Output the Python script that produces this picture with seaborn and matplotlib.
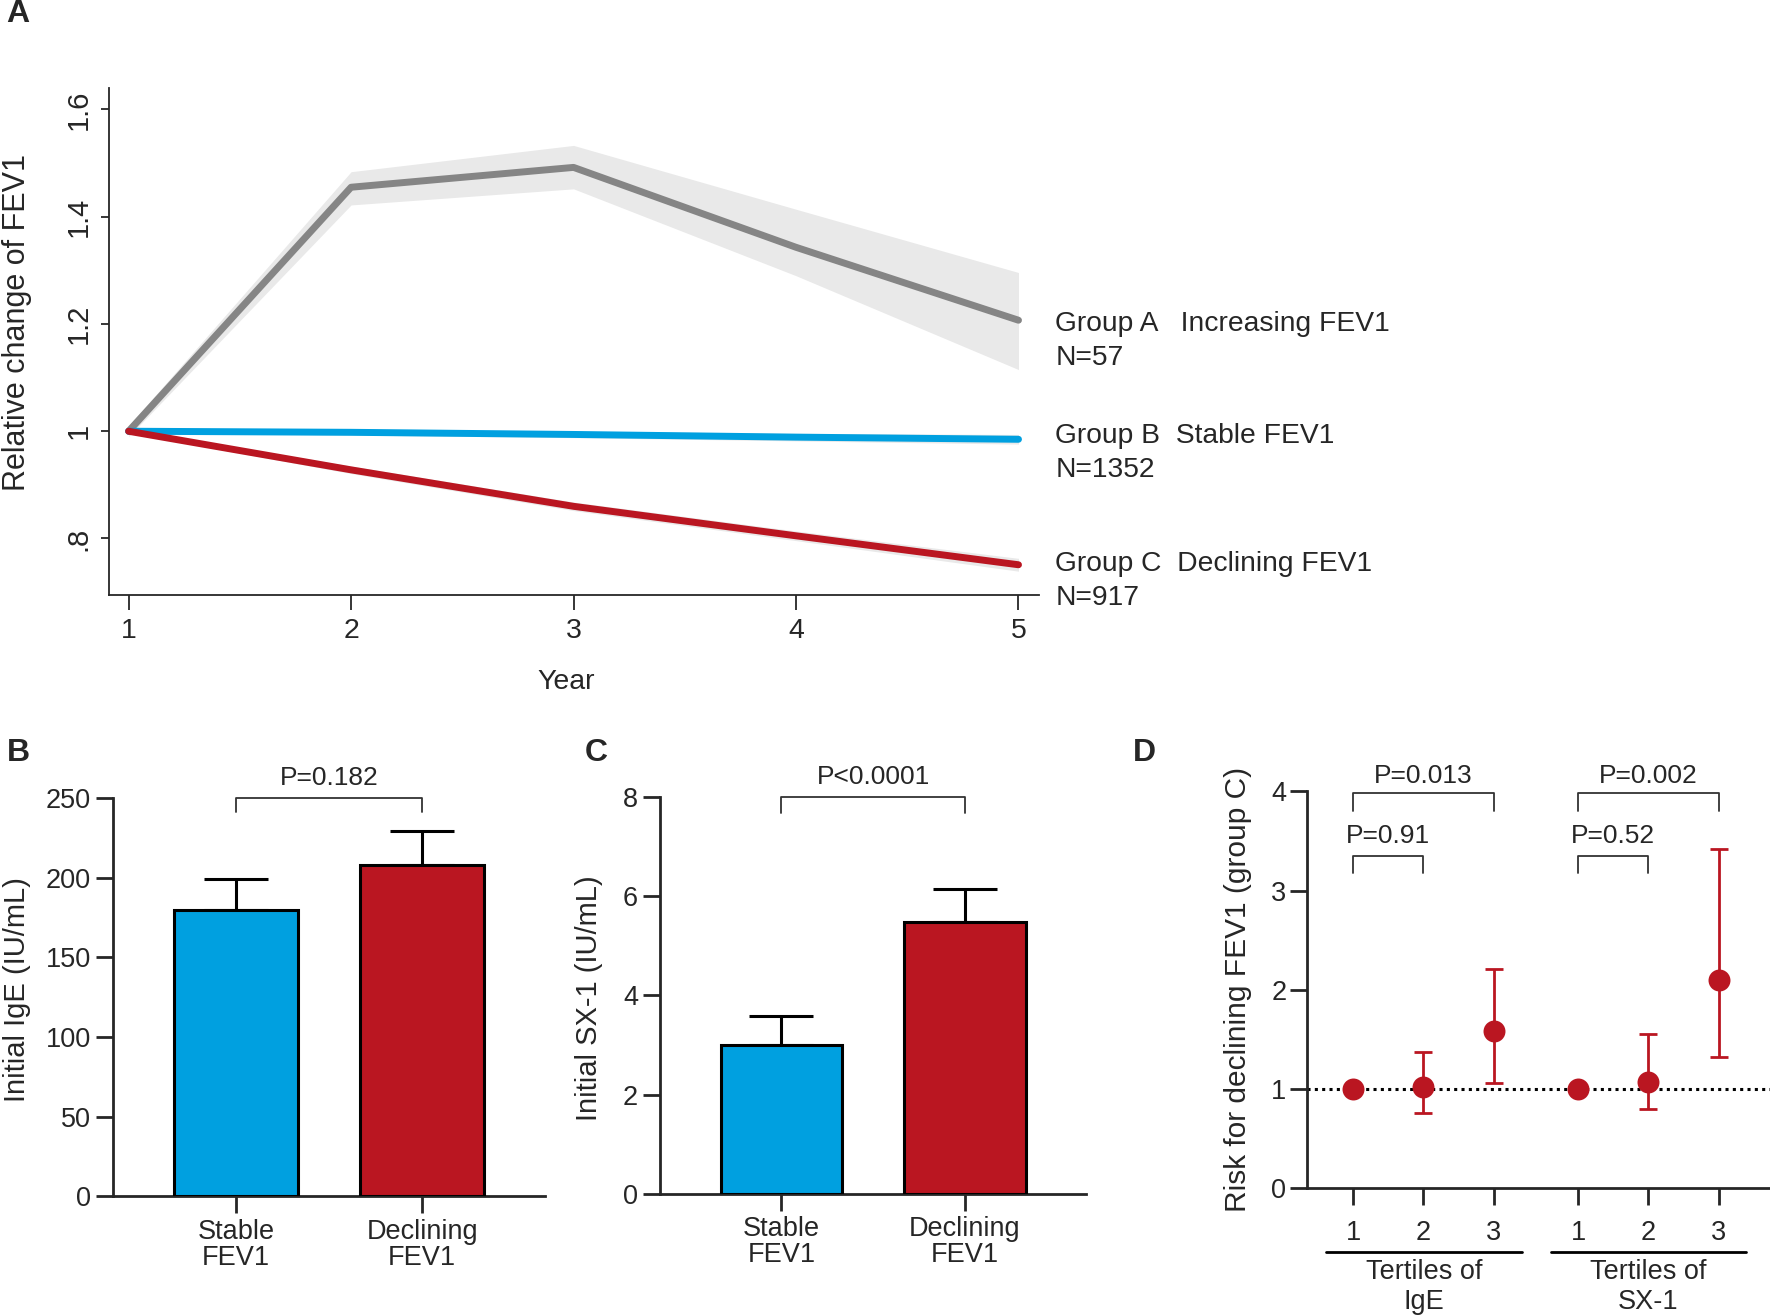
import matplotlib
matplotlib.use('Agg')
import matplotlib.pyplot as plt
import matplotlib.transforms as mtransforms
from matplotlib import font_manager
import seaborn as sns
import numpy as np

sns.set_style('ticks')
plt.rcParams['font.family'] = ['Liberation Sans', 'DejaVu Sans']

# font sempit untuk tick panel A kalau ada
nama_font = {f.name for f in font_manager.fontManager.ttflist}
NARROW = 'Liberation Sans Narrow' if 'Liberation Sans Narrow' in nama_font else 'Liberation Sans'
print('narrow font:', NARROW)

# warna
BLUE = '#00a0e0'
RED = '#ba1621'
GRAY = '#858585'
BAND = '#e9e9e9'

# data panel A
years = [1, 2, 3, 4, 5]
grp_a = [1.0, 1.455, 1.492, 1.343, 1.207]
grp_a_lo = [0.99, 1.422, 1.452, 1.29, 1.115]
grp_a_hi = [1.01, 1.484, 1.533, 1.414, 1.296]
grp_b = [1.0, 0.998, 0.994, 0.989, 0.985]
grp_b_lo = [0.997, 0.993, 0.988, 0.982, 0.976]
grp_b_hi = [1.003, 1.003, 1.0, 0.996, 0.994]
grp_c = [1.0, 0.928, 0.86, 0.805, 0.751]
grp_c_lo = [0.997, 0.921, 0.852, 0.796, 0.739]
grp_c_hi = [1.003, 0.935, 0.868, 0.814, 0.763]
group_names = ['Group A   Increasing FEV1', 'Group B  Stable FEV1', 'Group C  Declining FEV1']
group_n = ['N=57', 'N=1352', 'N=917']

# data panel B dan C
bar_cats = ['Stable\nFEV1', 'Declining\nFEV1']
ige_mean = [180, 208]
ige_err = [19, 21.5]
sx1_mean = [3.0, 5.48]
sx1_err = [0.58, 0.66]

# data panel D
tert_labels = ['1', '2', '3', '1', '2', '3']
risk = [1.0, 1.023, 1.581, 1.0, 1.071, 2.094]
risk_lo = [np.nan, 0.757, 1.064, np.nan, 0.805, 1.319]
risk_hi = [np.nan, 1.374, 2.209, np.nan, 1.551, 3.416]

W, H = 1568.0, 1166.0


def box(x0, y0, x1, y1):
    return [x0 / W, 1 - y1 / H, (x1 - x0) / W, (y1 - y0) / H]


def ftext(x, y, s, **kw):
    fig.text(x / W, 1 - y / H, s, ha='center', va='center', **kw)


fig = plt.figure(figsize=(17.7, 13.16), dpi=100)

# ---------------- panel A
axA = fig.add_axes(box(97, 78, 920, 527))
series = [(grp_a, grp_a_lo, grp_a_hi, GRAY),
          (grp_b, grp_b_lo, grp_b_hi, BLUE),
          (grp_c, grp_c_lo, grp_c_hi, RED)]
for mean, lo, hi, col in series:
    axA.fill_between(years, lo, hi, color=BAND, lw=0, zorder=1)
for mean, lo, hi, col in series:
    sns.lineplot(x=years, y=mean, ax=axA, color=col, lw=5,
                 solid_capstyle='round', zorder=3)
axA.set_xlim(0.914, 5.09)
axA.set_ylim(0.695, 1.64)
axA.set_xticks(years)
axA.set_yticks([0.8, 1.0, 1.2, 1.4, 1.6])
axA.set_yticklabels(['.8', '1', '1.2', '1.4', '1.6'], rotation=90, va='center')
axA.tick_params(axis='x', length=11, width=1.3, labelsize=20.5, pad=6)
axA.tick_params(axis='y', length=6, width=1.3, labelsize=21, pad=6)
for lab in axA.get_xticklabels() + axA.get_yticklabels():
    lab.set_family([NARROW, 'Liberation Sans'])
for s in ['left', 'bottom']:
    axA.spines[s].set_linewidth(1.3)
sns.despine(ax=axA)
axA.set_xlabel('')
axA.set_ylabel('')

ftext(15, 286, 'Relative change of FEV1', rotation=90, fontsize=22)
ftext(502, 604, 'Year', fontsize=20.5)
name_y = [287, 386, 500]
n_y = [317, 416, 530]
for nm, n, y1, y2 in zip(group_names, group_n, name_y, n_y):
    fig.text(935 / W, 1 - y1 / H, nm, ha='left', va='center', fontsize=20.3)
    fig.text(935 / W, 1 - y2 / H, n, ha='left', va='center', fontsize=20.3)


# ---------------- panel B dan C
def bar_panel(ax, means, errs, ymax, yticks, ptxt, p_y, leg):
    sns.barplot(x=bar_cats, y=means, hue=bar_cats, palette=[BLUE, RED],
                saturation=1, legend=False, width=0.664, edgecolor='black',
                linewidth=2.2, errorbar=None, ax=ax, zorder=3)
    ax.errorbar([0, 1], means, yerr=[[0, 0], errs], fmt='none',
                ecolor='black', elinewidth=2.2, capsize=23, capthick=2.2,
                zorder=2)
    ax.set_xlim(-0.66, 1.66)
    ax.set_ylim(0, ymax)
    ax.set_yticks(yticks)
    ax.tick_params(axis='both', length=12, width=2, labelsize=19.5, pad=4)
    for s in ['left', 'bottom']:
        ax.spines[s].set_linewidth(2)
    sns.despine(ax=ax)
    ax.set_xlabel('')
    ax.set_ylabel('')
    for lab in ax.get_xticklabels():
        lab.set_linespacing(1.0)
    ax.plot([0, 0, 1, 1], [leg, ymax, ymax, leg], color='#333333', lw=1.3,
            clip_on=False)
    ax.text(0.5, p_y, ptxt, ha='center', va='center', fontsize=19)


axB = fig.add_axes(box(100, 707, 483, 1060))
bar_panel(axB, ige_mean, ige_err, 250, [0, 50, 100, 150, 200, 250],
          'P=0.182', 262.5, 241)
ftext(15, 877, 'Initial IgE (IU/mL)', rotation=90, fontsize=21)

axC = fig.add_axes(box(585, 706, 962, 1058))
bar_panel(axC, sx1_mean, sx1_err, 8, [0, 2, 4, 6, 8],
          'P<0.0001', 8.4, 7.68)
ftext(522, 884, 'Initial SX-1 (IU/mL)', rotation=90, fontsize=21)

# ---------------- panel D
axD = fig.add_axes(box(1158, 701, 1568, 1053))
xpos = [1, 2, 3, 4.2, 5.2, 6.2]
axD.axhline(1, color='black', lw=2.2, ls=(0, (1, 1.4)), zorder=1)
lo = np.array(risk) - np.array(risk_lo)
hi = np.array(risk_hi) - np.array(risk)
ok = ~np.isnan(lo)
axD.errorbar(np.array(xpos)[ok], np.array(risk)[ok], yerr=[lo[ok], hi[ok]],
             fmt='none', ecolor=RED, elinewidth=2, capsize=6.5, capthick=2,
             zorder=2)
sns.scatterplot(x=xpos, y=risk, ax=axD, color=RED, s=250, edgecolor=RED,
                linewidth=0, zorder=3)
axD.set_xlim(0.346, 6.93)
axD.set_ylim(0, 4)
axD.set_yticks([0, 1, 2, 3, 4])
axD.set_xticks(xpos)
axD.set_xticklabels(tert_labels)
axD.tick_params(axis='both', length=12, width=2, labelsize=19.5)
axD.tick_params(axis='x', pad=11)
axD.tick_params(axis='y', pad=3)
for s in ['left', 'bottom']:
    axD.spines[s].set_linewidth(2)
sns.despine(ax=axD)
axD.set_xlabel('')
axD.set_ylabel('')


def bracket(ax, x0, x1, y, leg, txt, ty):
    ax.plot([x0, x0, x1, x1], [leg, y, y, leg], color='#333333', lw=1.3,
            clip_on=False)
    ax.text((x0 + x1) / 2, ty, txt, ha='center', va='center', fontsize=19)


bracket(axD, xpos[0], xpos[2], 3.98, 3.80, 'P=0.013', 4.15)
bracket(axD, xpos[0], xpos[1], 3.35, 3.18, 'P=0.91', 3.55)
bracket(axD, xpos[3], xpos[5], 3.98, 3.80, 'P=0.002', 4.15)
bracket(axD, xpos[3], xpos[4], 3.35, 3.18, 'P=0.52', 3.55)

trans = mtransforms.blended_transform_factory(axD.transData, axD.transAxes)
for (a, b), nm in zip([(0.62, 3.40), (3.81, 6.59)], ['IgE', 'SX-1']):
    axD.plot([a, b], [-0.159, -0.159], color='black', lw=2, transform=trans,
             clip_on=False)
    axD.text((a + b) / 2, -0.21, 'Tertiles of', ha='center', va='center',
             fontsize=19.5, transform=trans)
    axD.text((a + b) / 2, -0.285, nm, ha='center', va='center',
             fontsize=19.5, transform=trans)
ftext(1097, 877, 'Risk for declining FEV1 (group C)', rotation=90, fontsize=21.5)

# huruf panel
for x, y, t in [(16, 12, 'A'), (16, 667, 'B'), (528, 667, 'C'), (1014, 667, 'D')]:
    ftext(x, y, t, fontsize=23, fontweight='bold')

plt.savefig('out.png', dpi=100)
